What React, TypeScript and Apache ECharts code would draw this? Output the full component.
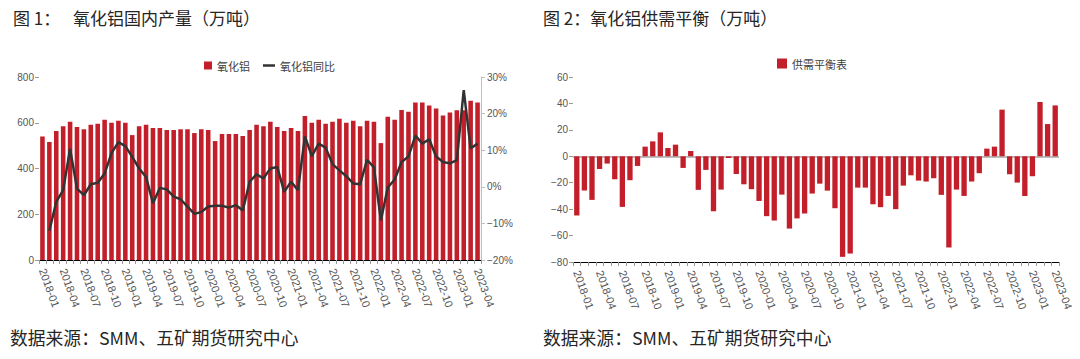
import React, { useEffect, useRef } from "react";
import * as echarts from "echarts";

const months = [
  "2018-01","2018-02","2018-03","2018-04","2018-05","2018-06","2018-07","2018-08","2018-09","2018-10","2018-11","2018-12",
  "2019-01","2019-02","2019-03","2019-04","2019-05","2019-06","2019-07","2019-08","2019-09","2019-10","2019-11","2019-12",
  "2020-01","2020-02","2020-03","2020-04","2020-05","2020-06","2020-07","2020-08","2020-09","2020-10","2020-11","2020-12",
  "2021-01","2021-02","2021-03","2021-04","2021-05","2021-06","2021-07","2021-08","2021-09","2021-10","2021-11","2021-12",
  "2022-01","2022-02","2022-03","2022-04","2022-05","2022-06","2022-07","2022-08","2022-09","2022-10","2022-11","2022-12",
  "2023-01","2023-02","2023-03","2023-04",
];

// 氧化铝国内产量（万吨）
const production = [
  540, 516, 564, 585, 604, 581, 572, 591, 596, 613,
  600, 609, 600, 546, 585, 591, 577, 577, 568, 568,
  572, 572, 555, 572, 568, 520, 551, 551, 551, 542,
  568, 591, 585, 604, 581, 564, 577, 564, 630, 600,
  613, 596, 604, 617, 600, 609, 585, 609, 604, 511,
  626, 613, 656, 648, 688, 688, 675, 662, 632, 645,
  655, 655, 696, 688,
];

// 氧化铝同比（%）
const yoy = [
  null, -12.0, -4.1, -0.9, 10.4, -0.5, -2.3, 0.7, 1.1, 3.6,
  9.2, 12.2, 11.1, 8.2, 5.0, 2.7, -4.5, -0.3, -0.7, -2.7,
  -3.4, -5.4, -7.4, -6.9, -5.4, -5.2, -5.2, -5.7, -5.0, -6.5,
  1.4, 3.4, 2.3, 5.0, 5.4, -1.4, 1.4, -0.9, 13.8, 8.4,
  11.8, 10.7, 6.2, 4.5, 2.9, 0.9, 0.7, 7.4, 5.3, -9.2,
  -0.2, 2.0, 6.8, 8.3, 14.0, 11.8, 13.0, 8.3, 6.8, 6.4,
  7.3, 26.4, 10.5, 11.8,
];

// 供需平衡表（万吨）
const balance = [
  -44.8, -25.9, -33.0, -9.6, -5.5, -17.4, -38.3, -18.1, -7.3, 7.3,
  11.3, 18.1, 6.3, 8.8, -8.8, 4.0, -25.4, -10.3, -41.6, -25.2,
  -1.3, -13.4, -21.2, -24.9, -33.8, -45.3, -48.6, -29.0, -54.7, -47.0,
  -43.3, -28.2, -20.7, -26.0, -39.3, -76.1, -73.6, -23.7, -23.7, -36.3,
  -38.5, -30.0, -40.0, -22.2, -14.4, -18.4, -19.1, -16.6, -29.2, -69.0,
  -25.2, -30.0, -19.1, -12.8, 5.8, 7.3, 35.3, -13.6, -19.9, -30.0,
  -15.1, 41.1, 24.4, 38.5,
];

const title1Prefix = "图 1：";
const title1 = "氧化铝国内产量（万吨）";
const title2 = "图 2：氧化铝供需平衡（万吨）";
const source = "数据来源：SMM、五矿期货研究中心";

const RED = "#C21F2A";
const LABEL = "#555555";
const FONT = "'Liberation Sans', Arial, 'Noto Sans CJK SC', sans-serif";
const CJK = "'Noto Sans CJK SC', sans-serif";

const minus = (v: number | string) => String(v).replace("-", "−");

export default function App() {
  const ref = useRef<HTMLDivElement>(null);

  useEffect(() => {
    if (!ref.current) return;
    const chart = echarts.init(ref.current, undefined, { renderer: "svg" });

    const xAxisCommon = {
      type: "category",
      data: months,
      axisLine: { onZero: false, lineStyle: { color: "#000", width: 1 } },
      axisTick: { show: true, interval: 0, length: 4, lineStyle: { color: "#999" } },
      axisLabel: {
        interval: 2,
        rotate: -70,
        fontSize: 11,
        color: LABEL,
        fontFamily: FONT,
        margin: 9,
      },
      splitLine: { show: false },
    };

    const yLeftCommon = {
      type: "value",
      axisLine: { show: false },
      axisTick: { show: true, length: 4, lineStyle: { color: "#999" } },
      axisLabel: {
        fontSize: 10,
        color: LABEL,
        fontFamily: FONT,
        margin: 5,
        formatter: (v: number) => minus(v),
      },
    };

    chart.setOption({
      animation: false,
      backgroundColor: "#fff",
      textStyle: { fontFamily: FONT },
      grid: [
        { left: 39, top: 77, width: 442, height: 183, containLabel: false },
        { left: 573, top: 77, width: 486, height: 185, containLabel: false },
      ],
      legend: [
        {
          data: ["氧化铝"],
          left: 199,
          top: 55,
          icon: "rect",
          itemWidth: 8,
          itemHeight: 8,
          textStyle: { fontSize: 11, color: "#404040", fontFamily: CJK },
          selectedMode: false,
        },
        {
          data: [{ name: "氧化铝同比", icon: "rect" }],
          left: 258,
          top: 55,
          itemWidth: 12,
          itemHeight: 2.5,
          textStyle: { fontSize: 11, color: "#404040", fontFamily: CJK },
          selectedMode: false,
        },
        {
          data: ["供需平衡表"],
          left: 772,
          top: 53,
          icon: "rect",
          itemWidth: 10,
          itemHeight: 10,
          textStyle: { fontSize: 11, color: "#404040", fontFamily: CJK },
          selectedMode: false,
        },
      ],
      xAxis: [
        { ...xAxisCommon, gridIndex: 0 },
        { ...xAxisCommon, gridIndex: 1 },
      ],
      yAxis: [
        {
          ...yLeftCommon,
          gridIndex: 0,
          min: 0,
          max: 800,
          interval: 200,
          splitLine: { show: false },
        },
        {
          type: "value",
          gridIndex: 0,
          position: "right",
          min: -20,
          max: 30,
          interval: 10,
          axisLine: { show: true, lineStyle: { color: "#bfbfbf" } },
          axisTick: { show: true, length: 4, lineStyle: { color: "#bfbfbf" } },
          axisLabel: {
            fontSize: 10,
            color: LABEL,
            fontFamily: FONT,
            margin: 6,
            formatter: (v: number) => minus(v) + "%",
          },
          splitLine: { show: false },
        },
        {
          ...yLeftCommon,
          gridIndex: 1,
          min: -80,
          max: 60,
          interval: 20,
          splitLine: {
            show: true,
            lineStyle: {
              width: 2,
              color: [
                "rgba(0,0,0,0)",
                "rgba(0,0,0,0)",
                "rgba(0,0,0,0)",
                "rgba(0,0,0,0)",
                "#bdbdbd",
                "rgba(0,0,0,0)",
                "rgba(0,0,0,0)",
                "rgba(0,0,0,0)",
              ],
            },
          },
        },
      ],
      series: [
        {
          name: "氧化铝",
          type: "bar",
          xAxisIndex: 0,
          yAxisIndex: 0,
          data: production,
          barWidth: "66%",
          itemStyle: { color: RED },
          z: 2,
        },
        {
          name: "氧化铝同比",
          type: "line",
          xAxisIndex: 0,
          yAxisIndex: 1,
          data: yoy,
          symbol: "none",
          connectNulls: false,
          lineStyle: { color: "#333", width: 2.5 },
          itemStyle: { color: "#333" },
          z: 3,
        },
        {
          name: "供需平衡表",
          type: "bar",
          xAxisIndex: 1,
          yAxisIndex: 2,
          data: balance,
          barWidth: "70%",
          itemStyle: { color: RED },
          z: 2,
        },
      ],
      graphic: [
        {
          type: "text",
          left: 13,
          top: 9,
          style: { text: title1Prefix, fontSize: 17, fill: "#262626", fontFamily: CJK },
        },
        {
          type: "text",
          left: 73,
          top: 9,
          style: { text: title1, fontSize: 17, fill: "#262626", fontFamily: CJK },
        },
        {
          type: "text",
          left: 543,
          top: 9,
          style: { text: title2, fontSize: 17, fill: "#262626", fontFamily: CJK },
        },
        {
          type: "text",
          left: 10,
          top: 328,
          style: { text: source, fontSize: 17.8, fill: "#262626", fontFamily: CJK },
        },
        {
          type: "text",
          left: 543,
          top: 328,
          style: { text: source, fontSize: 17.8, fill: "#262626", fontFamily: CJK },
        },
      ],
    });

    return () => chart.dispose();
  }, []);

  return (
    <div
      ref={ref}
      style={{
        position: "fixed",
        left: 0,
        top: 0,
        width: 1080,
        height: 359,
        background: "#fff",
      }}
    />
  );
}
